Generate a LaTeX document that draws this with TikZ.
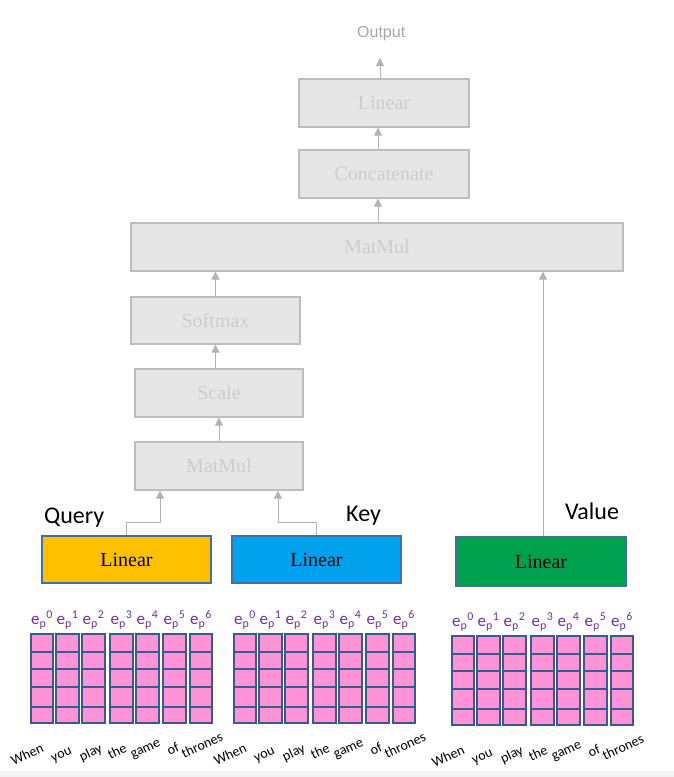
\documentclass[tikz,border=0pt]{standalone}
\usepackage{fontspec}
\setmainfont{Liberation Serif}
\newfontfamily\calfont{Carlito}
\newfontfamily\arialfont{Liberation Sans}
\usetikzlibrary{arrows.meta,calc}
\definecolor{gbox}{HTML}{E6E6E6}
\definecolor{gline}{HTML}{BDBDBD}
\definecolor{gtext}{HTML}{CDCDCD}
\definecolor{garrow}{HTML}{B3B3B3}
\definecolor{otext}{HTML}{A6A6A6}
\definecolor{qyel}{HTML}{FFC000}
\definecolor{kblue}{HTML}{00A2EE}
\definecolor{vgreen}{HTML}{00A04E}
\definecolor{bborder}{HTML}{41719C}
\definecolor{cellpink}{HTML}{FF93D8}
\definecolor{cellline}{HTML}{3A5A8C}
\definecolor{epurple}{HTML}{7030A0}
\definecolor{band}{HTML}{F3F3F3}
\begin{document}
\begin{tikzpicture}[x=1pt,y=-1pt,
  graybox/.style={draw=gline,line width=1.3pt,fill=gbox,text=gtext,font=\fontsize{20}{24}\selectfont,inner sep=0pt},
  linbox/.style={draw=bborder,line width=1.2pt,font=\fontsize{20}{24}\selectfont,inner sep=0pt,minimum width=169pt,minimum height=47pt},
  arr/.style={draw=garrow,line width=1pt,-{Triangle[width=8pt,length=8pt]}},
  qkv/.style={font=\calfont\fontsize{24}{28}\selectfont,anchor=base west,inner sep=0pt},
  elabel/.style={font=\calfont\fontsize{17}{20}\selectfont,text=epurple,inner sep=0pt},
  word/.style={font=\calfont\fontsize{14}{16}\selectfont,rotate=25,inner sep=0pt},
  cell/.style={draw=cellline,line width=1.3pt}
]
\useasboundingbox (0,0) rectangle (674,777);
\fill[band] (0,771) rectangle (674,777);

% gray stack
\node[anchor=base west,inner sep=0pt,font=\arialfont\fontsize{16}{18}\selectfont,text=otext] (out) at (357,37) {Output};
\node[graybox,minimum width=170pt,minimum height=48pt] (lin2) at (384,103) {Linear};
\node[graybox,minimum width=170pt,minimum height=48pt] (concat) at (384,174) {Concatenate};
\node[graybox,minimum width=492pt,minimum height=48pt] (mm2) at (377,247) {MatMul};
\node[graybox,minimum width=169pt,minimum height=47pt] (soft) at (215.5,320.5) {Softmax};
\node[graybox,minimum width=168pt,minimum height=48pt] (scale) at (219,393) {Scale};
\node[graybox,minimum width=168pt,minimum height=48pt] (mm1) at (219,466) {MatMul};

% linear layers
\node[linbox,fill=qyel] (q) at (126.5,559.5) {Linear};
\node[linbox,fill=kblue] (k) at (316.5,559.5) {Linear};
\node[linbox,fill=vgreen,minimum width=170pt,minimum height=49pt] (v) at (541,561.5) {Linear};

\node[qkv] (qlab) at (44,523) {Query};
\node[qkv] (klab) at (346,521) {Key};
\node[qkv] (vlab) at (565,519) {Value};

% connector coordinates
\coordinate (outend) at (380,58);
\coordinate (c1) at (378,0);
\coordinate (qa) at (160,522);
\coordinate (ka) at (278,522);
\coordinate (va) at (543,0);

% connectors
\draw[arr] (lin2.north -| outend) -- (outend);
\draw[arr] (concat.north -| c1) -- (lin2.south -| c1);
\draw[arr] (mm2.north -| c1) -- (concat.south -| c1);
\draw[arr] (soft.north) -- (soft.north |- mm2.south);
\draw[arr] (soft.south |- scale.north) -- (soft.south);
\draw[arr] (mm1.north) -- (scale.south);
\draw[arr] (q.north) |- (qa) -- (qa |- mm1.south);
\draw[arr] (k.north) |- (ka) -- (ka |- mm1.south);
\draw[arr] (v.north -| va) -- (mm2.south -| va);

% embedding grids
\foreach \dx/\dy in {0/0, 203/0, 421/2} {
  \foreach \l/\r [count=\i from 0] in {31/53,56/79,82/105,110/133,136/159,163/186,190/212} {
    \fill[cellpink] (\l+\dx,634+\dy) rectangle (\r+\dx,723+\dy);
    \foreach \yy in {652,669,687,707}
      \draw[cellline,line width=1.1pt] (\l+\dx,\yy+\dy) -- (\r+\dx,\yy+\dy);
    \draw[cell] (\l+\dx,634+\dy) rectangle (\r+\dx,723+\dy);
    \node[elabel] (e\dx-\i) at ({(\l+\r)/2+\dx},{620+\dy}) {e\textsubscript{p}\textsuperscript{\i}};
  }
  \foreach \w/\wx/\wy in {When/27/754,you/62/756,play/91/753,the/117/751,game/146/750,of/173/749,thrones/202/745}
    \node[word] (w\dx\w) at (\wx+\dx,\wy+\dy) {\w};
}
\end{tikzpicture}
\end{document}
